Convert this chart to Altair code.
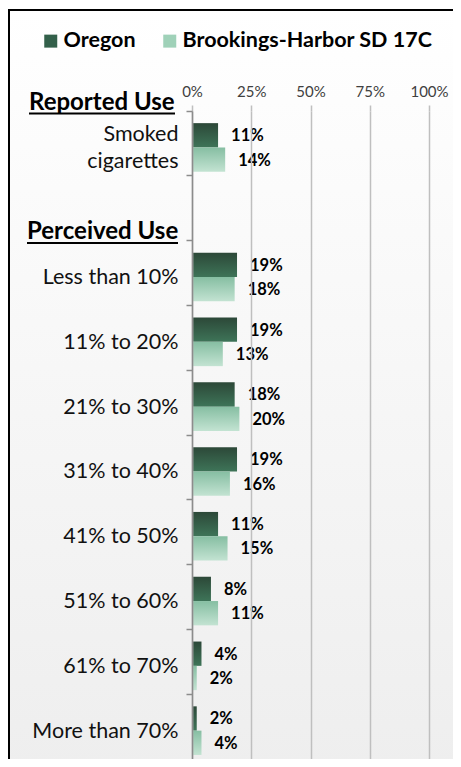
import altair as alt
import pandas as pd

# ---- data ----
categories = ["Smoked cigarettes", " ", "Less than 10%", "11% to 20%", "21% to 30%",
              "31% to 40%", "41% to 50%", "51% to 60%", "61% to 70%", "More than 70%"]
data_categories = ["Smoked cigarettes", "Less than 10%", "11% to 20%", "21% to 30%",
                   "31% to 40%", "41% to 50%", "51% to 60%", "61% to 70%", "More than 70%"]
series = ["Oregon", "Brookings-Harbor SD 17C"]
oregon = [11, 19, 19, 18, 19, 11, 8, 4, 2]
brookings = [14, 18, 13, 20, 16, 15, 11, 2, 4]
x_ticks = [0, 25, 50, 75, 100]
headings = ["Reported Use", "Perceived Use"]

rows = []
for c, o, b in zip(data_categories, oregon, brookings):
    rows.append({"cat": c, "series": series[0], "value": o, "label": f"{o}%"})
    rows.append({"cat": c, "series": series[1], "value": b, "label": f"{b}%"})
df = pd.DataFrame(rows)

FONT = "Lato"
W, H = 237, 648

def vgrad(c0, c1):
    return alt.LinearGradient(gradient="linear", x1=0, y1=0, x2=0, y2=1,
                              stops=[alt.GradientStop(offset=0, color=c0),
                                     alt.GradientStop(offset=1, color=c1)])

y_enc = alt.Y("cat:N", sort=categories,
              scale=alt.Scale(domain=categories, paddingInner=0, paddingOuter=0),
              axis=alt.Axis(title=None, orient="left", bandPosition=0,
                            labelOffset={"condition": {"test": "datum.value == 'Smoked cigarettes'",
                                                       "value": -8}, "value": 5},
                            tickSize=6, tickColor="#8c8c8c", tickWidth=1.5,
                            domainColor="#8c8c8c", domainWidth=1.5,
                            labelFont=FONT, labelFontSize=21.5, labelColor="#111111",
                            labelPadding=8, labelLineHeight=27, labelLimit=300,
                            labelExpr="datum.value == 'Smoked cigarettes' ? ['Smoked', 'cigarettes'] : datum.value",
                            zindex=1))
yoff_enc = alt.YOffset("series:N", sort=series,
                       scale=alt.Scale(domain=series, paddingInner=0, paddingOuter=0.333, align=0.75))
x_enc = alt.X("value:Q", scale=alt.Scale(domain=[0, 100], nice=False),
              axis=alt.Axis(title=None, orient="top", values=x_ticks,
                            labelExpr="datum.value + '%'", grid=True, gridColor="#bfbfbf",
                            gridWidth=1.5, domain=False, ticks=True, tickSize=6,
                            tickColor="#bfbfbf", tickWidth=1.5, labelFont=FONT,
                            labelFontSize=15, labelColor="#404040", labelPadding=6,
                            labelFlush=False, zindex=1))

base = alt.Chart(df).encode(y=y_enc, yOffset=yoff_enc, x=x_enc)

background = alt.Chart(pd.DataFrame({"a": [0]})).mark_rect(
    fill=vgrad("#ffffff", "#eeeeee"), stroke="#000000", strokeWidth=2
).encode(x=alt.value(-183), x2=alt.value(275), y=alt.value(-101), y2=alt.value(660))

bars_or = base.transform_filter(alt.datum.series == series[0]).mark_bar(
    fill=vgrad("#2c4838", "#3e7458"))
bars_bh = base.transform_filter(alt.datum.series == series[1]).mark_bar(
    fill=vgrad("#86bea2", "#c3e3d2"))

legend_layer = base.mark_square(opacity=0, size=1).encode(
    color=alt.Color("series:N", sort=series,
                    scale=alt.Scale(domain=series, range=["#33604a", "#9fd1b8"]),
                    legend=alt.Legend(title=None, orient="none", legendX=-152, legendY=-81,
                                      direction="horizontal", columns=2, columnPadding=23,
                                      labelFont=FONT, labelFontSize=21.5, labelFontWeight="bold",
                                      labelColor="#000000", labelOffset=2, labelLimit=400,
                                      symbolType="square", symbolSize=169, symbolOpacity=1,
                                      symbolStrokeWidth=0)))

labels = base.mark_text(align="left", baseline="middle", dx=13, dy=1, font=FONT,
                        fontWeight="bold", fontSize=16.5, color="#000000").encode(text="label:N")

head1 = alt.Chart(pd.DataFrame({"t": [headings[0]]})).mark_text(
    align="left", baseline="alphabetic", font=FONT, fontWeight="bold", fontSize=24, color="#000000"
).encode(text="t:N", x=alt.value(-163), y=alt.value(-1))
head2 = alt.Chart(pd.DataFrame({"t": [headings[1]]})).mark_text(
    align="left", baseline="alphabetic", font=FONT, fontWeight="bold", fontSize=24, color="#000000"
).encode(text="t:N", x=alt.value(-165), y=alt.value(128))
ul1 = alt.Chart(pd.DataFrame({"a": [0]})).mark_rule(color="#000000", strokeWidth=2).encode(
    x=alt.value(-163), x2=alt.value(-17), y=alt.value(2.5))
ul2 = alt.Chart(pd.DataFrame({"a": [0]})).mark_rule(color="#000000", strokeWidth=2).encode(
    x=alt.value(-165), x2=alt.value(-14), y=alt.value(132))

chart = alt.layer(background, bars_or, bars_bh, legend_layer, labels, head1, head2, ul1, ul2).properties(
    width=W, height=H,
    padding={"left": 184, "top": 103, "right": 24, "bottom": 0},
    autosize=alt.AutoSizeParams(type="none"),
    background="#ffffff",
).configure_view(strokeWidth=0)

chart.save("out.html", embed_options={"renderer": "svg", "actions": False})
